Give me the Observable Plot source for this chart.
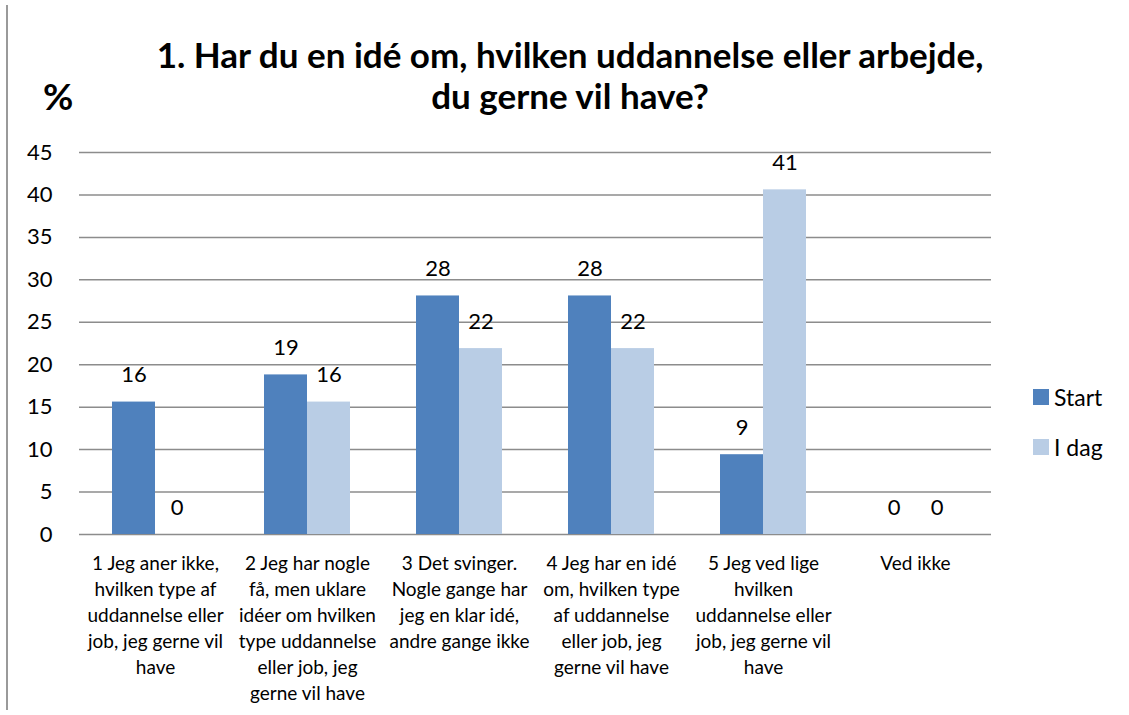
<!DOCTYPE html>
<html>
<head>
<meta charset="utf-8">
<script src="https://cdn.jsdelivr.net/npm/d3@7"></script>
<script src="https://cdn.jsdelivr.net/npm/@observablehq/plot@0.6"></script>
<style>
  html, body { margin: 0; padding: 0; background: #fff; }
  #wrap { position: relative; width: 1129px; height: 715px; overflow: hidden; font-family: Lato, "Noto Sans", sans-serif; }
  #border { position: absolute; left: 6px; top: 5px; width: 2px; height: 705px; background: #9a9a9a; }
  #title { position: absolute; left: 70px; width: 1000px; top: 34px; text-align: center; font-weight: bold; font-size: 35px; line-height: 41px; color: #000; }
  #pct { position: absolute; left: 43px; top: 73px; font-weight: bold; font-size: 37px; color: #000; }
  #legend { position: absolute; left: 1033px; top: 383px; font-size: 23px; color: #000; }
  .li { display: flex; align-items: center; height: 28px; margin-bottom: 22px; }
  .sw { width: 16px; height: 16px; margin-right: 5px; }
  #chart { position: absolute; left: 0; top: 0; }
</style>
</head>
<body>
<div id="wrap">
  <div id="border"></div>
  <div id="chart"></div>
  <div id="title">1. Har du en idé om, hvilken uddannelse eller arbejde,<br>du gerne vil have?</div>
  <div id="pct">%</div>
  <div id="legend"></div>
</div>
<script>
const categories = [
  "1 Jeg aner ikke, hvilken type af uddannelse eller job, jeg gerne vil have",
  "2 Jeg har nogle få, men uklare idéer om hvilken type uddannelse eller job, jeg gerne vil have",
  "3 Det svinger. Nogle gange har jeg en klar idé, andre gange ikke",
  "4 Jeg har en idé om, hvilken type af uddannelse eller job, jeg gerne vil have",
  "5 Jeg ved lige hvilken uddannelse eller job, jeg gerne vil have",
  "Ved ikke"
];
const tickLabels = [
  "1 Jeg aner ikke,\nhvilken type af\nuddannelse eller\njob, jeg gerne vil\nhave",
  "2 Jeg har nogle\nfå, men uklare\nidéer om hvilken\ntype uddannelse\neller job, jeg\ngerne vil have",
  "3 Det svinger.\nNogle gange har\njeg en klar idé,\nandre gange ikke",
  "4 Jeg har en idé\nom, hvilken type\naf uddannelse\neller job, jeg\ngerne vil have",
  "5 Jeg ved lige\nhvilken\nuddannelse eller\njob, jeg gerne vil\nhave",
  "Ved ikke"
];
const seriesNames = ["Start", "I dag"];
const startValues = [15.6, 18.8, 28.1, 28.1, 9.4, 0];
const idagValues = [0, 15.6, 21.9, 21.9, 40.6, 0];
const colors = ["#4F81BD", "#B9CDE5"];
const yTicks = [0, 5, 10, 15, 20, 25, 30, 35, 40, 45];

const data = [];
categories.forEach((c, i) => {
  data.push({cat: c, series: seriesNames[0], value: startValues[i]});
  data.push({cat: c, series: seriesNames[1], value: idagValues[i]});
});

const plot = Plot.plot({
  width: 1129,
  height: 715,
  marginTop: 152,
  marginBottom: 181,
  marginLeft: 77,
  marginRight: 137,
  style: {fontFamily: "Lato, 'Noto Sans', sans-serif", background: "transparent", color: "#000"},
  fx: {domain: categories, padding: 0, label: null},
  x: {domain: seriesNames, paddingInner: 0, paddingOuter: 0.73, axis: null},
  y: {domain: [0, 45], label: null},
  color: {domain: seriesNames, range: colors},
  marks: [
    Plot.ruleY(yTicks, {stroke: "#8c8c8c", strokeWidth: 1.5}),
    Plot.ruleX([0], {frameAnchor: "left", stroke: "#8c8c8c", strokeWidth: 1.5}),
    Plot.barY(data, {fx: "cat", x: "series", y: "value", fill: "series"}),
    Plot.text(data, {fx: "cat", x: "series", y: "value", text: d => d3.format(".0f")(d.value), dy: -27, fontSize: 22, fill: "#000"}),
    Plot.axisY({ticks: yTicks, tickSize: 0, tickPadding: 27, fontSize: 22, label: null}),
    Plot.axisFx({anchor: "bottom", tickSize: 0, tickPadding: 17, fontSize: 19, lineHeight: 1.37, lineAnchor: "top",
      tickFormat: d => tickLabels[categories.indexOf(d)], label: null})
  ]
});
document.getElementById("chart").appendChild(plot);

const legend = document.getElementById("legend");
seriesNames.forEach((s, i) => {
  const row = document.createElement("div");
  row.className = "li";
  row.innerHTML = `<span class="sw" style="background:${colors[i]}"></span><span>${s}</span>`;
  legend.appendChild(row);
});
</script>
</body>
</html>
